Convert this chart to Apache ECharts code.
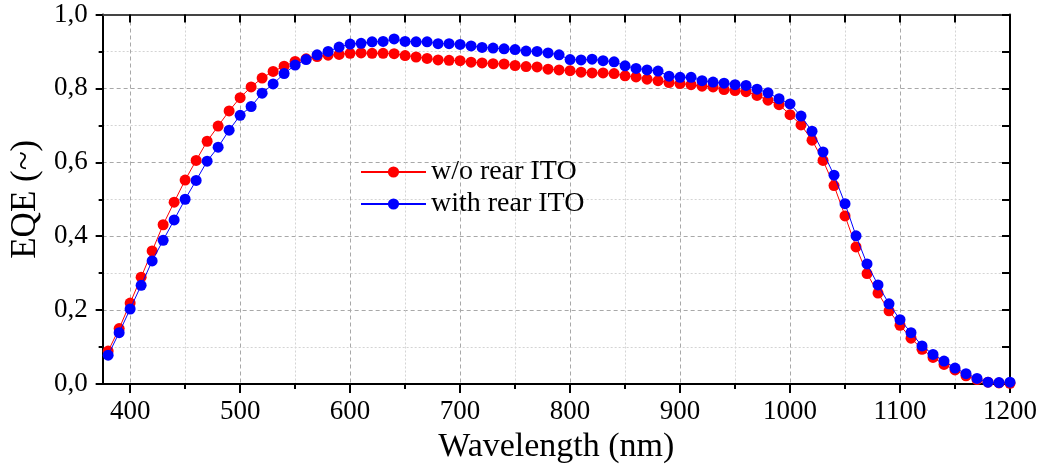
<!DOCTYPE html>
<html>
<head>
<meta charset="utf-8">
<script src="https://cdn.jsdelivr.net/npm/echarts@6/dist/echarts.min.js"></script>
<style>html,body{margin:0;padding:0;background:#fff}#c{width:1045px;height:472px}</style>
</head>
<body>
<div id="c"></div>
<script>
const wavelengths = [];
for (let w = 380; w <= 1200; w += 10) wavelengths.push(w);
const xMajorTicks = [400, 500, 600, 700, 800, 900, 1000, 1100, 1200];
const xMinorTicks = [450, 550, 650, 750, 850, 950, 1050, 1150];
const xTopTicks = [400, 450, 500, 550, 600, 650, 700, 750, 800, 850, 900, 950, 1000, 1050, 1100, 1150, 1200];
const seriesNames = ['w/o rear ITO', 'with rear ITO'];
const woITO = [0.089,0.150,0.219,0.289,0.360,0.431,0.492,0.552,0.605,0.657,0.698,0.739,0.775,0.804,0.828,0.846,0.860,0.873,0.880,0.886,0.890,0.892,0.895,0.896,0.895,0.895,0.894,0.889,0.885,0.881,0.877,0.876,0.875,0.871,0.869,0.867,0.866,0.862,0.859,0.858,0.852,0.850,0.848,0.844,0.842,0.842,0.840,0.834,0.831,0.825,0.821,0.816,0.813,0.810,0.806,0.804,0.797,0.794,0.791,0.781,0.768,0.756,0.729,0.701,0.660,0.605,0.537,0.455,0.371,0.299,0.246,0.198,0.159,0.124,0.094,0.072,0.053,0.038,0.022,0.012,0.005,0.003,0.002];
const withITO = [0.078,0.139,0.203,0.267,0.333,0.389,0.444,0.500,0.551,0.603,0.641,0.687,0.727,0.751,0.787,0.812,0.840,0.863,0.878,0.891,0.900,0.912,0.920,0.922,0.926,0.927,0.934,0.927,0.926,0.926,0.921,0.921,0.919,0.915,0.911,0.909,0.907,0.905,0.901,0.900,0.896,0.891,0.878,0.877,0.879,0.875,0.872,0.861,0.854,0.850,0.847,0.833,0.830,0.830,0.821,0.817,0.814,0.810,0.808,0.798,0.788,0.772,0.758,0.725,0.684,0.628,0.565,0.488,0.401,0.325,0.268,0.217,0.174,0.139,0.103,0.080,0.062,0.043,0.028,0.015,0.005,0.004,0.005];

const FONT = 'Liberation Serif';
const chart = echarts.init(document.getElementById('c'), null, {renderer: 'canvas'});
const pairs = arr => wavelengths.map((w, i) => [w, arr[i]]);
const majorGrid = {show: true, lineStyle: {color: '#a8a8a8', width: 1, type: [4, 3]}};
const minorGrid = {show: true, lineStyle: {color: '#d4d4d4', width: 1, type: [2, 2]}};

chart.setOption({
  animation: false,
  backgroundColor: '#fff',
  textStyle: {fontFamily: FONT, color: '#000'},
  grid: {left: 102, right: 35, top: 14.5, bottom: 88, containLabel: false},
  legend: {
    data: seriesNames,
    orient: 'vertical',
    left: 355, top: 153,
    itemWidth: 65, itemHeight: 14, itemGap: 4,
    textStyle: {fontFamily: FONT, fontSize: 28, color: '#000'}
  },
  xAxis: [
    {
      type: 'value', min: 375, max: 1200, position: 'bottom',
      name: 'Wavelength (nm)', nameLocation: 'middle', nameGap: 44,
      nameTextStyle: {fontFamily: FONT, fontSize: 34, color: '#000'},
      axisLine: {show: true, onZero: false, lineStyle: {color: '#000', width: 2}},
      axisTick: {show: true, inside: false, length: 9, customValues: xMajorTicks, lineStyle: {color: '#000', width: 2}},
      axisLabel: {show: true, customValues: xMajorTicks, margin: 14, fontFamily: FONT, fontSize: 27, color: '#000',
        formatter: v => String(v)},
      splitLine: majorGrid
    },
    {
      type: 'value', min: 375, max: 1200, position: 'bottom',
      axisLine: {show: false},
      axisTick: {show: true, inside: false, length: 5, customValues: xMinorTicks, lineStyle: {color: '#000', width: 2}},
      axisLabel: {show: false},
      splitLine: minorGrid
    },
    {
      type: 'value', min: 375, max: 1200, position: 'top',
      axisLine: {show: true, onZero: false, lineStyle: {color: '#444', width: 2}},
      axisTick: {show: true, inside: true, length: 8, customValues: xTopTicks, lineStyle: {color: '#000', width: 2}},
      axisLabel: {show: false},
      splitLine: {show: false}
    }
  ],
  yAxis: [
    {
      type: 'value', min: 0, max: 1, interval: 0.2, position: 'left',
      name: 'EQE (~)', nameLocation: 'middle', nameGap: 52, nameRotate: 90,
      nameTextStyle: {fontFamily: FONT, fontSize: 35, color: '#000'},
      axisLine: {show: true, onZero: false, lineStyle: {color: '#000', width: 2}},
      axisTick: {show: true, inside: false, length: 7, lineStyle: {color: '#000', width: 2}},
      minorTick: {show: true, splitNumber: 2, length: 4, lineStyle: {color: '#000', width: 2}},
      axisLabel: {margin: 15, fontFamily: FONT, fontSize: 27, color: '#000',
        formatter: v => v.toFixed(1).replace('.', ',')},
      splitLine: majorGrid,
      minorSplitLine: minorGrid
    },
    {
      type: 'value', min: 0, max: 1, interval: 0.1, position: 'right',
      axisLine: {show: true, onZero: false, lineStyle: {color: '#000', width: 2}},
      axisTick: {show: true, inside: true, length: 8, lineStyle: {color: '#000', width: 2}},
      axisLabel: {show: false},
      splitLine: {show: false}
    }
  ],
  series: [
    {
      name: seriesNames[0], type: 'line', xAxisIndex: 0, yAxisIndex: 0,
      data: pairs(woITO), symbol: 'circle', symbolSize: 11, showSymbol: true,
      itemStyle: {color: '#ff0000'}, lineStyle: {color: '#ff0000', width: 1}, z: 3
    },
    {
      name: seriesNames[1], type: 'line', xAxisIndex: 0, yAxisIndex: 0,
      data: pairs(withITO), symbol: 'circle', symbolSize: 11, showSymbol: true,
      itemStyle: {color: '#0000ff'}, lineStyle: {color: '#0000ff', width: 1}, z: 4
    }
  ]
});
</script>
</body>
</html>
